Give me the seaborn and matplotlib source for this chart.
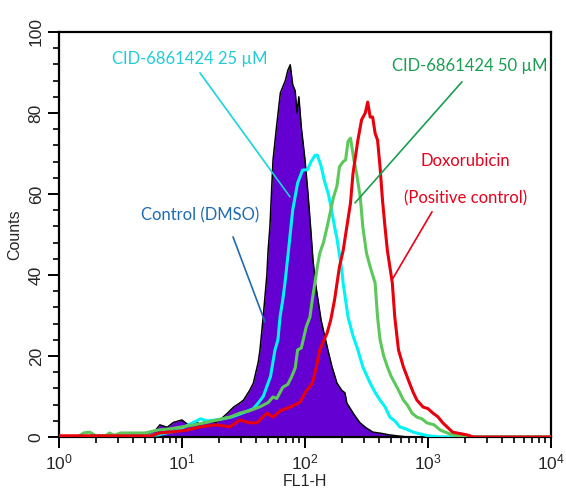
import numpy as np
import pandas as pd
import matplotlib
matplotlib.use("Agg")
import matplotlib.pyplot as plt
from matplotlib import font_manager
from matplotlib.ticker import FixedLocator, MultipleLocator, NullFormatter
import seaborn as sns

# ---------------------------------------------------------------------------
# Histogram data: FL1-H position (log10 of intensity) and event counts
# ---------------------------------------------------------------------------
ctrl_logfl = [0.00, 0.50, 0.70, 0.78, 0.82, 0.88, 0.93, 1.00, 1.05, 1.10, 1.15, 1.20,
              1.28, 1.33, 1.37, 1.42, 1.47, 1.50, 1.55, 1.58, 1.62, 1.634, 1.66, 1.69,
              1.70, 1.715, 1.74, 1.77, 1.80, 1.84, 1.86, 1.88, 1.90, 1.92, 1.935, 1.95,
              1.97, 2.00, 2.024, 2.045, 2.065, 2.085, 2.106, 2.13, 2.154, 2.19, 2.22,
              2.26, 2.30, 2.325, 2.34, 2.40, 2.447, 2.50, 2.553, 2.62, 2.69, 2.83, 4.00]
ctrl_counts = [0.0, 0.3, 0.8, 1.5, 3.0, 2.4, 3.6, 4.2, 3.0, 3.8, 3.2, 4.0,
               3.6, 4.8, 5.9, 7.4, 8.4, 9.1, 11.5, 13.3, 18.5, 21.5, 29.6, 40.0,
               46.0, 52.0, 68.4, 77.0, 85.0, 88.0, 90.5, 91.9, 87.0, 85.5, 80.0, 84.0,
               76.5, 68.4, 60.2, 52.0, 43.7, 38.0, 33.8, 29.0, 25.7, 21.0, 17.3,
               13.3, 11.5, 10.9, 8.4, 5.5, 3.5, 2.2, 1.2, 0.9, 0.5, 0.0, 0.0]

cid25_logfl = [0.00, 0.80, 0.95, 1.09, 1.15, 1.20, 1.28, 1.35, 1.41, 1.50, 1.58, 1.62,
               1.66, 1.70, 1.72, 1.756, 1.78, 1.797, 1.82, 1.837, 1.862, 1.90, 1.94,
               1.98, 2.02, 2.05, 2.08, 2.10, 2.13, 2.16, 2.19, 2.21, 2.24, 2.26, 2.28,
               2.30, 2.31, 2.35, 2.39, 2.43, 2.47, 2.53, 2.57, 2.61, 2.65, 2.69, 2.73,
               2.77, 2.82, 2.88, 3.00, 3.10, 4.00]
cid25_counts = [0.0, 0.5, 1.5, 3.5, 4.5, 4.0, 4.2, 4.6, 5.0, 6.0, 7.0, 8.4,
                10.0, 13.3, 15.0, 21.5, 24.0, 29.6, 34.0, 38.0, 45.0, 56.0, 62.7,
                65.9, 66.0, 68.0, 69.5, 69.6, 67.0, 63.0, 60.0, 57.0, 52.0, 49.0, 45.0,
                41.0, 38.0, 29.6, 25.0, 21.5, 17.3, 13.3, 11.0, 9.1, 7.5, 4.9, 4.0,
                2.5, 2.0, 1.2, 0.3, 0.0, 0.0]

cid50_logfl = [0.00, 0.15, 0.20, 0.25, 0.30, 0.38, 0.41, 0.45, 0.50, 0.70, 0.80, 0.90,
               1.00, 1.10, 1.20, 1.28, 1.39, 1.47, 1.55, 1.63, 1.70, 1.74, 1.77, 1.82,
               1.86, 1.89, 1.92, 1.94, 1.97, 2.01, 2.04, 2.06, 2.08, 2.10, 2.12, 2.15,
               2.18, 2.23, 2.26, 2.28, 2.31, 2.33, 2.35, 2.37, 2.40, 2.42, 2.45, 2.47,
               2.50, 2.53, 2.57, 2.59, 2.61, 2.64, 2.67, 2.70, 2.73, 2.77, 2.80, 2.83,
               2.87, 2.91, 2.95, 2.99, 3.05, 3.10, 3.20, 3.30, 4.00]
cid50_counts = [0.0, 0.0, 1.0, 1.2, 0.3, 0.3, 1.0, 0.4, 1.0, 1.0, 1.7, 2.0,
                2.5, 3.0, 3.6, 4.2, 4.9, 5.9, 6.5, 7.4, 8.5, 9.9, 9.5, 12.3,
                13.0, 14.8, 17.0, 21.5, 22.0, 27.2, 29.6, 34.0, 38.0, 42.0, 45.4, 48.0,
                51.9, 59.0, 62.0, 66.7, 68.0, 68.4, 73.0, 73.8, 68.0, 65.0, 59.0, 51.9,
                45.4, 42.0, 38.0, 29.6, 24.0, 20.0, 17.3, 15.0, 13.3, 11.0, 9.1, 8.0,
                5.9, 4.9, 4.5, 3.5, 3.0, 1.7, 0.5, 0.0, 0.0]

doxo_logfl = [0.00, 0.75, 0.82, 0.90, 1.04, 1.15, 1.28, 1.39, 1.47, 1.55, 1.61, 1.69,
              1.74, 1.80, 1.88, 1.96, 2.00, 2.06, 2.09, 2.12, 2.18, 2.21, 2.24, 2.28,
              2.31, 2.34, 2.37, 2.39, 2.43, 2.46, 2.49, 2.51, 2.53, 2.55, 2.57, 2.59,
              2.61, 2.63, 2.65, 2.67, 2.71, 2.73, 2.76, 2.80, 2.85, 2.88, 2.91, 2.96,
              3.00, 3.04, 3.08, 3.12, 3.20, 3.32, 3.37, 4.00]
doxo_counts = [0.3, 0.3, 1.0, 1.2, 1.7, 2.5, 3.0, 2.5, 4.2, 3.5, 3.5, 5.9,
               4.9, 6.5, 7.4, 8.6, 10.9, 13.3, 17.0, 21.5, 25.7, 29.0, 33.8, 42.0,
               46.0, 51.9, 57.8, 65.0, 73.3, 78.3, 80.0, 82.7, 79.0, 79.0, 75.0, 73.3,
               66.7, 58.5, 52.0, 46.0, 38.0, 29.6, 21.5, 17.3, 13.3, 11.0, 9.1, 7.4,
               7.0, 5.9, 5.0, 3.5, 1.2, 0.5, 0.0, 0.0]

x_decades = [0, 1, 2, 3, 4]
y_ticks = [0, 20, 40, 60, 80, 100]

# ---------------------------------------------------------------------------
# Styling
# ---------------------------------------------------------------------------
sns.set_style("ticks")

available = {f.name for f in font_manager.fontManager.ttflist}


def pick(*names):
    for n in names:
        if n in available:
            return n
    return "DejaVu Sans"


axis_font = pick("Liberation Sans Narrow", "Liberation Sans", "DejaVu Sans")
label_font = pick("Lato", "Open Sans", "Noto Sans", "DejaVu Sans")
narrow = axis_font == "Liberation Sans Narrow"

plt.rcParams["font.family"] = [axis_font, "DejaVu Sans"]
plt.rcParams["mathtext.default"] = "regular"
plt.rcParams["mathtext.fontset"] = "custom"
plt.rcParams["mathtext.rm"] = axis_font

PURPLE = "#6400d2"
CYAN = "#00f4f4"
GREEN = "#5cc85c"
RED = "#e8000c"

fig = plt.figure(figsize=(5.66, 4.94), dpi=100)
ax = fig.add_axes([59 / 566, 1 - 437 / 494, (551 - 59) / 566, (437 - 32) / 494])


def frame(logfl, counts, name):
    return pd.DataFrame({"FL1-H": np.power(10.0, logfl), "Counts": counts, "sample": name})


ctrl = frame(ctrl_logfl, ctrl_counts, "Control (DMSO)")
c25 = frame(cid25_logfl, cid25_counts, "CID-6861424 25 µM")
c50 = frame(cid50_logfl, cid50_counts, "CID-6861424 50 µM")
dox = frame(doxo_logfl, doxo_counts, "Doxorubicin")

# filled control histogram with a black outline
ax.fill_between(ctrl["FL1-H"], ctrl["Counts"], color=PURPLE, lw=0, zorder=2)
sns.lineplot(data=ctrl, x="FL1-H", y="Counts", ax=ax, color="black", lw=1.1,
             estimator=None, sort=False, zorder=3)

for df, col in [(c25, CYAN), (c50, GREEN), (dox, RED)]:
    sns.lineplot(data=df, x="FL1-H", y="Counts", ax=ax, color=col, lw=2.2,
                 estimator=None, sort=False, zorder=4)

ax.set_xscale("log")
ax.set_xlim(1, 1e4)
ax.set_ylim(0, 100)

ax.xaxis.set_major_locator(FixedLocator([10.0 ** d for d in x_decades]))
ax.set_xticklabels([f"$10^{{{d}}}$" for d in x_decades])
minor = [m * 10.0 ** d for d in x_decades[:-1] for m in range(2, 10)]
ax.xaxis.set_minor_locator(FixedLocator(minor))
ax.xaxis.set_minor_formatter(NullFormatter())

ax.yaxis.set_major_locator(FixedLocator(y_ticks))
ax.yaxis.set_minor_locator(MultipleLocator(4))
ax.set_yticklabels([str(v) for v in y_ticks], rotation=90, va="center")

tick_size = 13.5 if narrow else 12.5
ax.tick_params(axis="both", which="major", direction="out", length=8, width=1.4,
               labelsize=tick_size, color="black", pad=3)
ax.tick_params(axis="both", which="minor", direction="out", length=4.5, width=1.2,
               color="black")

for side in ["left", "bottom", "top", "right"]:
    ax.spines[side].set_visible(True)
    ax.spines[side].set_linewidth(1.6)
    ax.spines[side].set_color("black")

lab_size = 13 if narrow else 11.5
ax.set_xlabel("FL1-H", fontsize=lab_size, labelpad=1)
ax.set_ylabel("Counts", fontsize=lab_size, labelpad=5)

# ---------------------------------------------------------------------------
# Sample labels with leader lines
# ---------------------------------------------------------------------------
lbl = dict(family=[label_font, "DejaVu Sans"], fontsize=12, ha="center", va="center", zorder=6)

ax.text(11.6, 93.4, "CID-6861424 25 µM", color="#22ccd6", **lbl)
ax.plot([14.0, 75.5], [89.9, 59.3], color="#18d4dc", lw=1.2, zorder=5)

ax.text(2195, 91.6, "CID-6861424 50 µM", color="#1a9e52", **lbl)
ax.plot([1890, 255], [87.7, 57.8], color="#1a9e52", lw=1.2, zorder=5)

ax.text(1995, 68.1, "Doxorubicin", color="#e8001c", **lbl)
ax.text(2037, 59.0, "(Positive control)", color="#e8001c", **lbl)
ax.plot([1078, 510], [55.6, 38.8], color="#e8001c", lw=1.2, zorder=5)

ax.text(14.0, 54.6, "Control (DMSO)", color="#1f6bb0", **lbl)
ax.plot([26.0, 47.3], [49.4, 28.4], color="#1f6bb0", lw=1.2, zorder=5)

fig.savefig("out.png", dpi=100)
